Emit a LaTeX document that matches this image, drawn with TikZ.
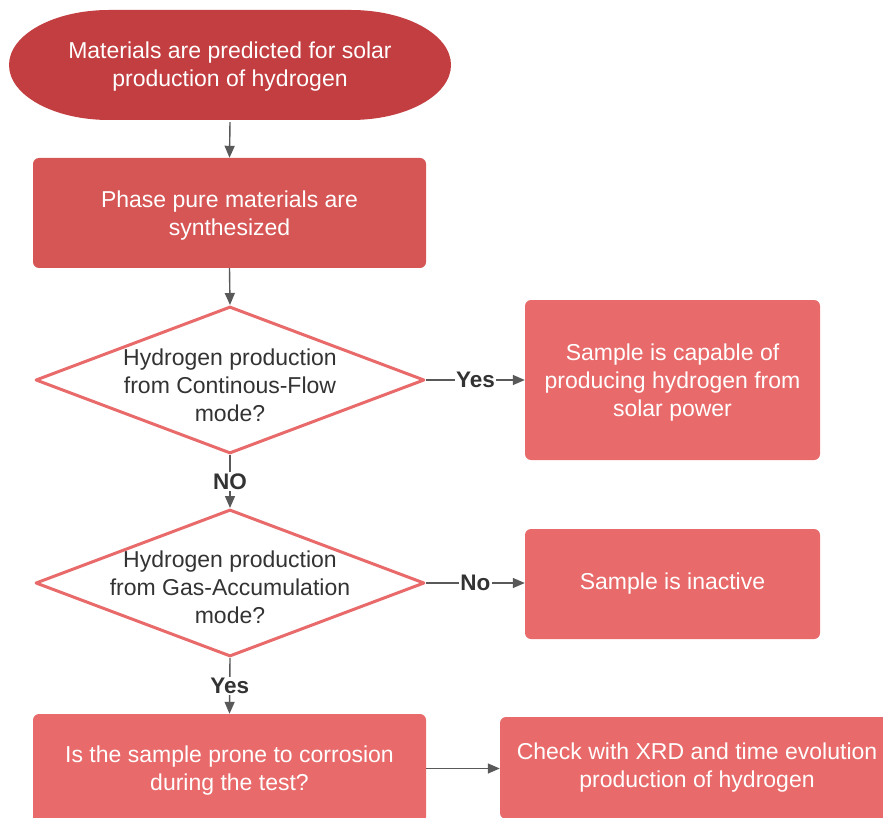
\documentclass[tikz,border=0pt]{standalone}
\usepackage{fontspec}
\setmainfont{Liberation Sans}
\usetikzlibrary{arrows.meta,shapes.geometric}
\definecolor{darkred}{HTML}{C23E40}
\definecolor{midred}{HTML}{D65555}
\definecolor{lightred}{HTML}{E96A6A}
\definecolor{arrowgray}{HTML}{595959}
\definecolor{textgray}{HTML}{333333}
\newcommand{\topstrut}{\rule{0pt}{21pt}}
\begin{document}
\begin{tikzpicture}[x=1pt,y=-1pt,
  txt/.style={font=\fontsize{23}{28}\selectfont, align=center},
  procbox/.style={txt, rectangle, rounded corners=6pt, fill=lightred, text=white, inner sep=0pt},
  decision/.style={diamond, draw=lightred, line width=3pt, line join=round, fill=white,
    minimum width=389pt, minimum height=147pt, inner sep=0pt},
  dtext/.style={txt, text=textgray, inner sep=0pt},
  conn/.style={draw=arrowgray, line width=1.4pt, -{Triangle[length=12pt,width=10pt]}},
  lab/.style={fill=white, font=\bfseries\fontsize{22.5}{26}\selectfont, text=textgray, inner sep=1.5pt}
]
\useasboundingbox (0,0) rectangle (883,818);
\clip (0,0) rectangle (883,818);

% start terminator
\fill[darkred] (109,10) -- (351,10)
  arc[start angle=90, end angle=-90, x radius=100pt, y radius=55pt]
  -- (109,120)
  arc[start angle=270, end angle=90, x radius=100pt, y radius=55pt] -- cycle;
\node[txt, text=white, minimum width=442pt, minimum height=110pt, inner sep=0pt] (start) at (230,67)
  {Materials are predicted for solar\\production of hydrogen};

\node[procbox, fill=midred, minimum width=393pt, minimum height=110pt] (synth) at (229.5,213)
  {\topstrut Phase pure materials are\\synthesized};

\node[decision] (d1) at (230,380) {};
\node[dtext] (d1t) at (230,385) {Hydrogen production\\from Continous-Flow\\mode?};

\node[procbox, minimum width=295pt, minimum height=160pt] (r1) at (672.5,380)
  {\topstrut Sample is capable of\\producing hydrogen from\\solar power};

\node[decision] (d2) at (230,583) {};
\node[dtext] (d2t) at (230,587) {Hydrogen production\\from Gas-Accumulation\\mode?};

\node[procbox, minimum width=295pt, minimum height=110pt] (r2) at (672.5,584)
  {Sample is inactive};

\node[procbox, minimum width=393pt, minimum height=109pt] (b1) at (229.5,768.5)
  {\topstrut Is the sample prone to corrosion\\during the test?};

\node[procbox, minimum width=394pt, minimum height=102pt] (b2) at (697,768)
  {Check with XRD and time evolution\\production of hydrogen};

\draw[conn] (start.south) -- (synth.north);
\draw[conn] (synth.south) -- (d1.north);
\draw[conn] (d1.east) -- node[lab] {Yes} (d1.east -| r1.west);
\draw[conn] (d1.south) -- node[lab] {NO} (d2.north);
\draw[conn] (d2.east) -- node[lab] {No} (d2.east -| r2.west);
\draw[conn] (d2.south) -- node[lab] {Yes} (b1.north);
\draw[conn] (b1.east) -- (b1.east -| b2.west);
\end{tikzpicture}
\end{document}
